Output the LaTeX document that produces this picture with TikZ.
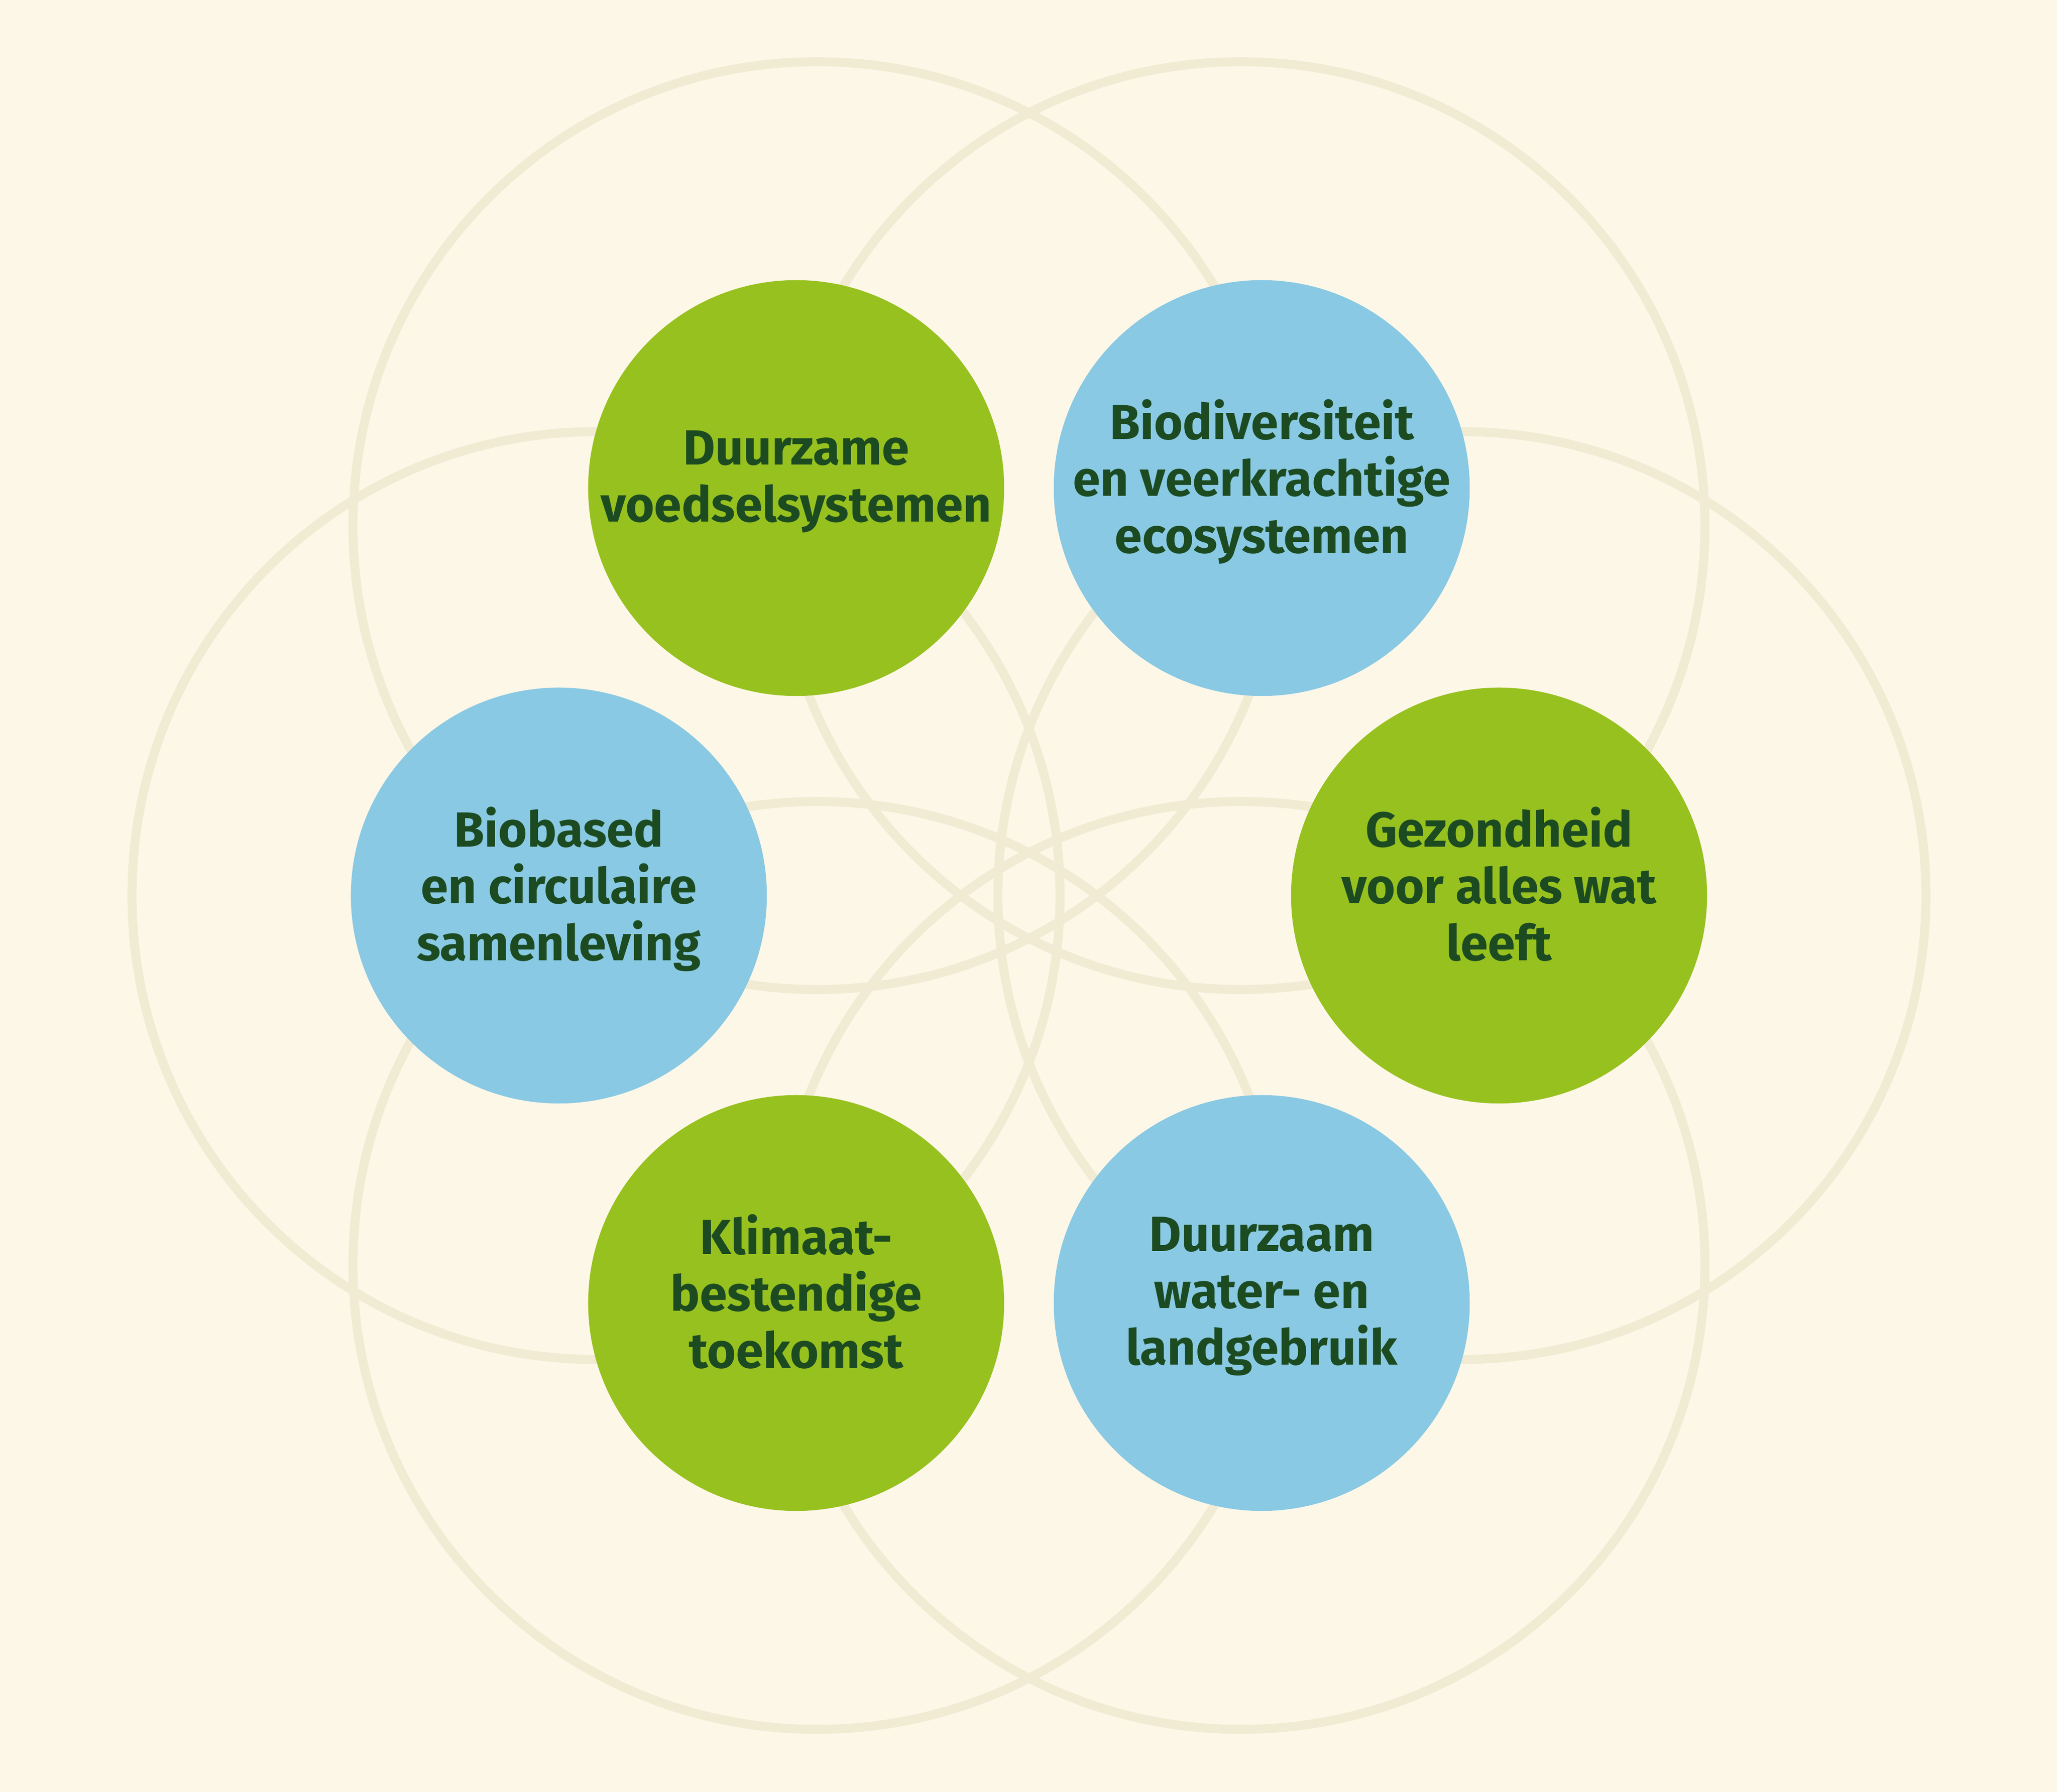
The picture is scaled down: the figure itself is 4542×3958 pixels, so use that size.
\documentclass[tikz,border=0pt]{standalone}
\usepackage{tikz}
\usepackage{fontspec}
\setmainfont{Fira Sans}
\definecolor{paper}{HTML}{FDF7E8}
\definecolor{ringline}{HTML}{F2EBD4}
\definecolor{leaf}{HTML}{97C11F}
\definecolor{sky}{HTML}{89C9E3}
\definecolor{ink}{HTML}{1C4B22}

\begin{document}
\begin{tikzpicture}[x=0.01cm, y=0.01cm,
		ring/.style={draw=ringline, line width=5.7pt},
		goal/.style={circle, minimum size=9.18cm, inner sep=0pt},
		goaltext/.style={align=center, text=ink, inner sep=0pt,
			font=\fontsize{31}{35.7}\selectfont\bfseries,
			execute at begin node={\rule{0pt}{30pt}},
			execute at end node={\rule[-15pt]{0pt}{15pt}}}]
				\fill[paper] (-2272,-1980) rectangle (2270,1978);
				\useasboundingbox (-2272,-1980) rectangle (2270,1978);
				\foreach \x/\y in {956/0, 468/817, -468/817, -956/0, -468/-817, 468/-817}
					\draw[ring] (\x,\y) circle[radius=10.24cm];
				\node[goal, fill=leaf] (g1) at (-514, 900) {};
				\node[goal, fill=sky] (g2) at (514, 900) {};
				\node[goal, fill=leaf] (g3) at (1038, 0) {};
				\node[goal, fill=sky] (g4) at (514, -900) {};
				\node[goal, fill=leaf] (g5) at (-514, -900) {};
				\node[goal, fill=sky] (g6) at (-1038, 0) {};
				\node[goaltext] (t1) at (g1) {Duurzame\\voedselsystemen};
				\node[goaltext] (t2) at (g2) {Biodiversiteit\\en veerkrachtige\\ecosystemen};
				\node[goaltext] (t3) at (g3) {Gezondheid\\voor alles wat\\leeft};
				\node[goaltext] (t4) at (g4) {Duurzaam\\water- en\\landgebruik};
				\node[goaltext] (t5) at (g5) {Klimaat-\\bestendige\\toekomst};
				\node[goaltext] (t6) at (g6) {Biobased\\en circulaire\\samenleving};
			\end{tikzpicture}
\end{document}
